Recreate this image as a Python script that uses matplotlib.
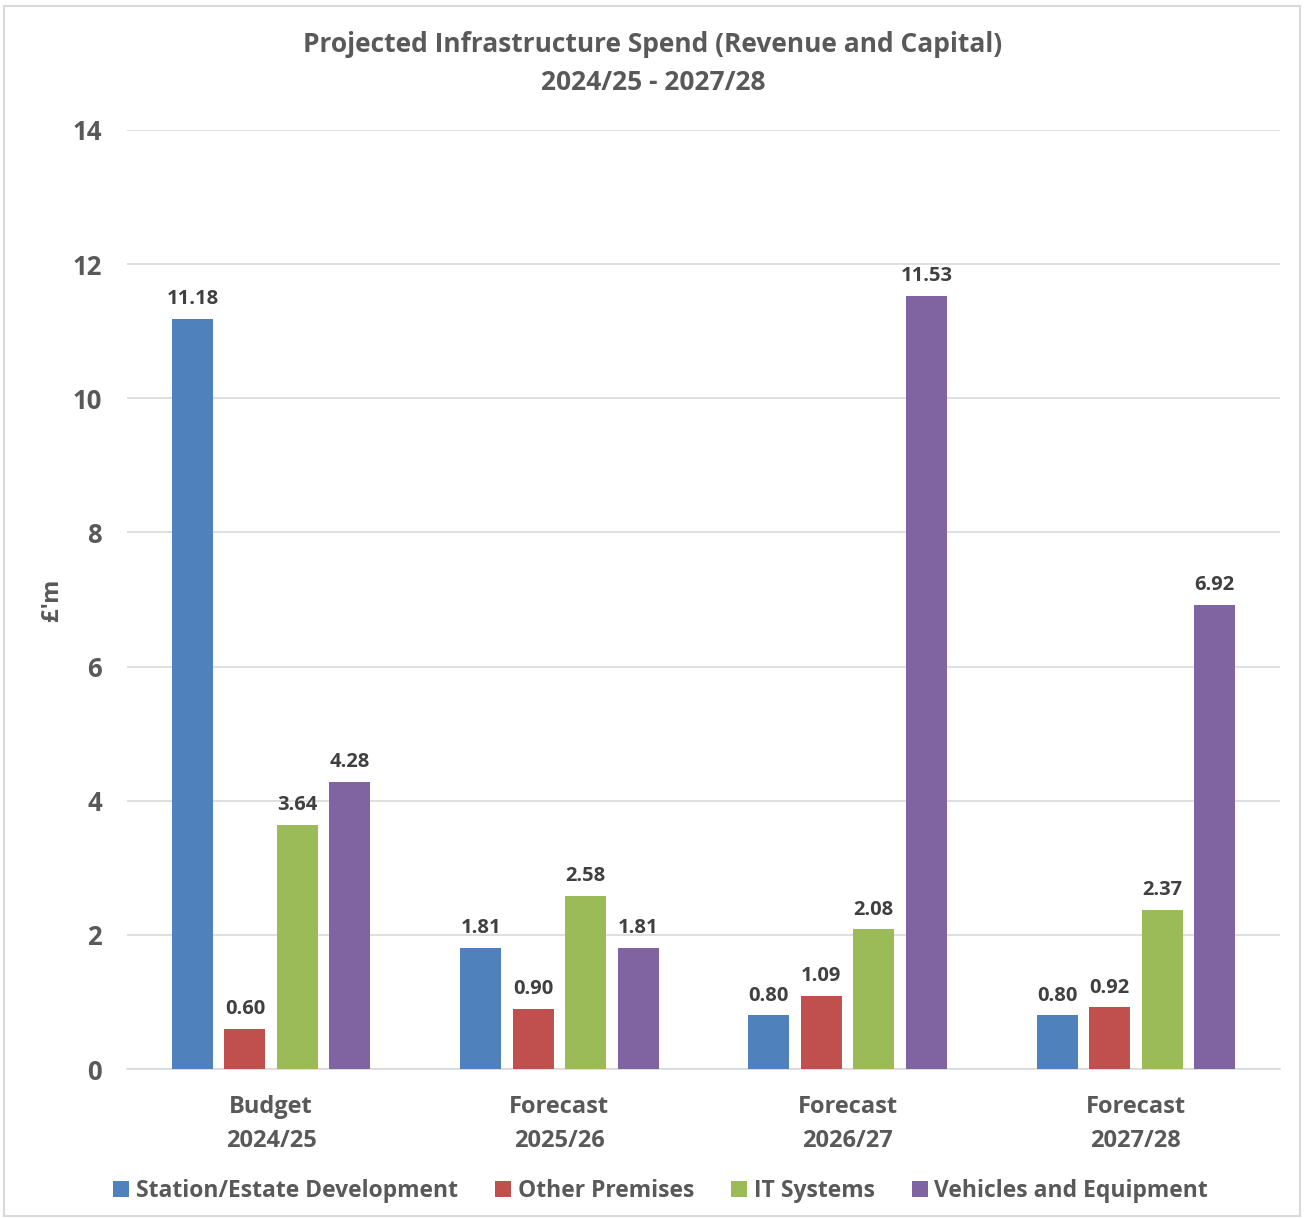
import matplotlib
matplotlib.use("Agg")
import matplotlib.pyplot as plt
from matplotlib.patches import Rectangle
import numpy as np

plt.rcParams['font.family'] = ['Open Sans', 'DejaVu Sans']

categories = ["Budget\n2024/25", "Forecast\n2025/26", "Forecast\n2026/27", "Forecast\n2027/28"]
series_names = ["Station/Estate Development", "Other Premises", "IT Systems", "Vehicles and Equipment"]
station_estate = [11.18, 1.81, 0.80, 0.80]
other_premises = [0.60, 0.90, 1.09, 0.92]
it_systems = [3.64, 2.58, 2.08, 2.37]
vehicles_equipment = [4.28, 1.81, 11.53, 6.92]
colors = ["#4F81BD", "#C0504D", "#9BBB59", "#8064A2"]
yticks = [0, 2, 4, 6, 8, 10, 12, 14]

text_color = "#595959"

fig = plt.figure(figsize=(13.06, 12.18), dpi=100)
ax = fig.add_axes([127 / 1306, 1 - 1069 / 1218, 1153 / 1306, (1069 - 130) / 1218])

values = [station_estate, other_premises, it_systems, vehicles_equipment]
x = np.arange(len(categories))
step = 0.182
width = 0.142
for i, (vals, name, col) in enumerate(zip(values, series_names, colors)):
    pos = x + (i - 1.5) * step
    bars = ax.bar(pos, vals, width=width, color=col, label=name, zorder=3)
    for b, v in zip(bars, vals):
        ax.annotate(f"{v:.2f}", (b.get_x() + b.get_width() / 2, v),
                    xytext=(0, 7), textcoords="offset points",
                    ha="center", va="bottom", fontsize=14.5,
                    fontweight="bold", color="#404040")

ax.set_xlim(-0.5, 3.5)
ax.set_ylim(0, 14)
ax.set_yticks(yticks)
ax.set_yticklabels([str(t) for t in yticks], fontsize=18.5, fontweight="bold", color=text_color)
ax.set_xticks(x)
ax.set_xticklabels(categories, fontsize=17, fontweight="bold", color=text_color, linespacing=1.55)
ax.tick_params(axis="both", length=0)
ax.tick_params(axis="y", pad=18)
ax.tick_params(axis="x", pad=19)
ax.grid(axis="y", color="#D9D9D9", linewidth=1.2, zorder=0)
for s in ["top", "right", "left"]:
    ax.spines[s].set_visible(False)
ax.spines["bottom"].set_color("#D9D9D9")
ax.spines["bottom"].set_linewidth(1.2)

ax.set_ylabel("£'m", fontsize=17, fontweight="bold", color=text_color, labelpad=6)

fig.text(0.5, 1 - 44 / 1218, "Projected Infrastructure Spend (Revenue and Capital)",
         ha="center", va="center", fontsize=19, fontweight="bold", color=text_color)
fig.text(0.5, 1 - 82 / 1218, "2024/25 - 2027/28",
         ha="center", va="center", fontsize=19, fontweight="bold", color=text_color)

leg = fig.legend(loc="center", bbox_to_anchor=(0.506, 1 - 1191 / 1218), ncol=4,
                 frameon=False, fontsize=16.5, handlelength=0.7, handleheight=0.7,
                 handletextpad=0.3, columnspacing=1.6)
for t in leg.get_texts():
    t.set_color(text_color)
    t.set_fontweight("bold")

fig.patches.append(Rectangle((4 / 1306, 2 / 1218), 1296 / 1306, 1210 / 1218,
                             transform=fig.transFigure, fill=False,
                             edgecolor="#D9D9D9", linewidth=1.5))

fig.savefig("out.png", dpi=100, facecolor="white")
